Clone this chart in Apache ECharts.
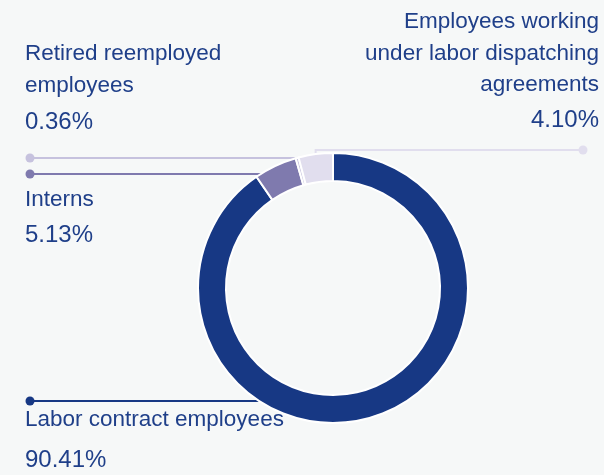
<!DOCTYPE html>
<html>
<head>
<meta charset="utf-8">
<script src="https://cdn.jsdelivr.net/npm/echarts@6/dist/echarts.min.js"></script>
<style>
  html, body { margin: 0; padding: 0; background: #f6f8f8; }
  #chart { width: 604px; height: 475px; }
</style>
</head>
<body>
<div id="chart"></div>
<script>
// Workforce composition by employment type (share of headcount, %)
const categories = [
  'Labor contract employees',
  'Interns',
  'Retired reemployed employees',
  'Employees working under labor dispatching agreements'
];
const displayNames = [
  'Labor contract employees',
  'Interns',
  'Retired reemployed\nemployees',
  'Employees working\nunder labor dispatching\nagreements'
];
const shares = [90.41, 5.13, 0.36, 4.10];
const sliceColors = ['#173884', '#7f7aae', '#c6c2de', '#e1deee'];

const TEXT = '#1f3f89';
const FONT = '"Liberation Sans", Arial, sans-serif';
const CX = 333, CY = 288, R_IN = 107, R_OUT = 135;
const R_MID = (R_IN + R_OUT) / 2;

// Where each label sits and where its leader line ends (the dot)
const labelPlacement = [
  { x: 25,  y: 404, align: 'left',  lineY: 401, dotX: 30,  valueGap: 50, fromRing: true },
  { x: 25,  y: 184, align: 'left',  lineY: 174, dotX: 30,  valueGap: 39.5, fromRing: true },
  { x: 25,  y: 38.5, align: 'left', lineY: 158, dotX: 30,  valueGap: 42, fromRing: false },
  { x: 599, y: 6.5, align: 'right', lineY: 150, dotX: 583, valueGap: 38, fromRing: false }
];

const chart = echarts.init(document.getElementById('chart'), null, { renderer: 'canvas' });

const total = shares.reduce((a, b) => a + b, 0);
// outer-edge midpoint of a slice (clockwise from 12 o'clock)
function sliceEdgePoint(idx) {
  let before = 0;
  for (let i = 0; i < idx; i++) before += shares[i];
  const frac = (before + shares[idx] / 2) / total;
  const a = frac * Math.PI * 2;
  return [CX + R_OUT * Math.sin(a), CY - R_OUT * Math.cos(a)];
}

const rich = { n: { fontSize: 22.5, lineHeight: 31.5, color: TEXT, fontFamily: FONT } };
labelPlacement.forEach((p, i) => {
  rich['v' + i] = { fontSize: 24, lineHeight: p.valueGap, color: TEXT, fontFamily: FONT };
});

chart.setOption({
  backgroundColor: '#f6f8f8',
  animation: false,
  textStyle: { fontFamily: FONT },
  graphic: labelPlacement.map((p, i) => ({
    type: 'circle',
    shape: { cx: p.dotX, cy: p.lineY, r: 4.5 },
    style: { fill: sliceColors[i] },
    z: 10
  })),
  series: [{
    type: 'pie',
    center: [CX, CY],
    radius: [R_IN, R_OUT],
    startAngle: 90,
    clockwise: true,
    avoidLabelOverlap: false,
    itemStyle: { borderColor: '#ffffff', borderWidth: 2 },
    data: categories.map((c, i) => ({
      name: c,
      value: shares[i],
      itemStyle: { color: sliceColors[i] },
      labelLine: { lineStyle: { color: sliceColors[i], width: 2 } }
    })),
    label: {
      show: true,
      position: 'outside',
      color: TEXT,
      formatter: (p) =>
        '{n|' + displayNames[p.dataIndex] + '}\n{v' + p.dataIndex + '|' + shares[p.dataIndex].toFixed(2) + '%}',
      rich: rich
    },
    labelLine: { show: true, showAbove: false, smooth: false },
    labelLayout: (params) => {
      const i = params.dataIndex;
      const pl = labelPlacement[i];
      let pts;
      if (pl.fromRing) {
        const dy = pl.lineY - CY;
        const sx = CX - Math.sqrt(R_MID * R_MID - dy * dy);
        pts = [[sx, pl.lineY], [sx - 1, pl.lineY], [pl.dotX, pl.lineY]];
      } else {
        const p0 = sliceEdgePoint(i);
        pts = [p0, [p0[0], pl.lineY], [pl.dotX, pl.lineY]];
      }
      return {
        x: pl.x,
        y: pl.y,
        align: pl.align,
        verticalAlign: 'top',
        labelLinePoints: pts
      };
    }
  }]
});
</script>
</body>
</html>
